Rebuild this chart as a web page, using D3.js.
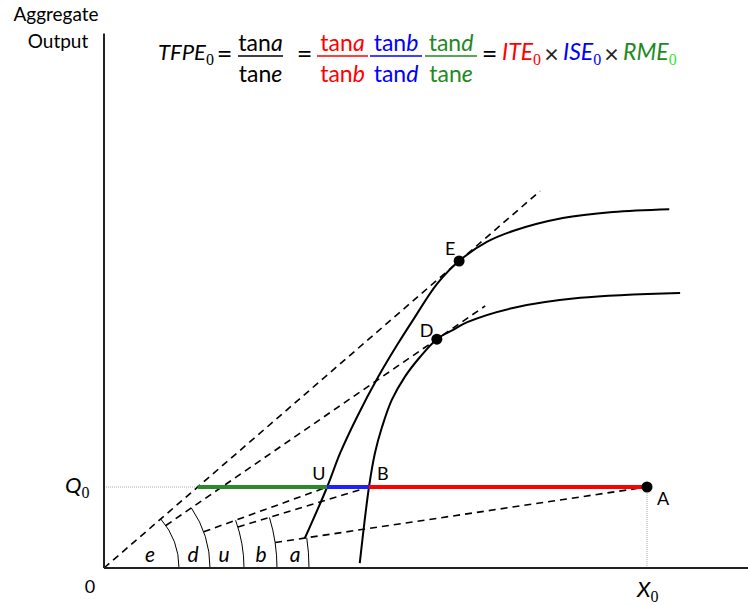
<!DOCTYPE html>
<html>
<head>
    <script src="https://cdn.jsdelivr.net/npm/d3@7/dist/d3.min.js" charset="utf-8"></script>
    <style>
        body { margin: 0; background: #fff; }
        text { font-family: Lato, "Open Sans", sans-serif; }
    </style>
</head>
<body>
    <script>
        // values (x in % of X0, y so that Q0 = 20)
        var Q0 = 20, X0 = 100;
        var upperCurve = [[37.0, 7.4], [41.1, 20], [43.5, 28.4], [46.6, 37.3], [50.5, 47.2], [54.0, 55.1],
            [56.9, 61.2], [61.3, 70.1], [65.4, 75.8], [70.5, 80.5], [75.3, 83.2], [84.5, 86.4], [93.7, 87.9], [104.1, 88.6]];
        var lowerCurve = [[47.1, 1.2], [48.8, 20], [49.9, 28.4], [51.2, 34.8], [53.0, 41.5], [55.4, 47.2],
            [58.2, 52.1], [61.3, 56.5], [64.3, 58.8], [66.9, 60.7], [75.3, 64.2], [87.7, 66.7], [106.1, 67.9]];
        var pointNames = ["E", "D", "U", "B", "A"];
        var pointX = [65.4, 61.3, 41.1, 48.8, 100];
        var pointY = [75.8, 56.5, 20, 20, 20];
        var angleNames = ["e", "d", "u", "b", "a"];
        var rayEnds = [80.3, 70.2, 41.1, 48.8, 100];   // x where each dashed ray stops
        var dotted = ["E", "D", "A"];
        var formulaFracs = [
            { num: "a", den: "e", color: "#000" },
            { num: "a", den: "b", color: "#ff0000" },
            { num: "b", den: "d", color: "#0000ff" },
            { num: "d", den: "e", color: "#1e8a1e" }
        ];
        var formulaTerms = ["ITE", "ISE", "RME"];
        var termColors = ["#ff0000", "#0000ff", "#1e8a1e"];
        var termSubColors = ["#ff0000", "#0000ff", "#33e633"];

        var W = 748, H = 605;
        var svg = d3.select("body")
            .append("svg")
            .attr("width", W)
            .attr("height", H);

        var x = d3.scaleLinear().domain([0, X0]).range([104, 647]);
        var y = d3.scaleLinear().domain([0, Q0]).range([568, 487]);
        var ox = x(0), oy = y(0);

        // guides
        var eSlope = pointX[0] / pointY[0];
        var greenStart = Q0 * eSlope;
        svg.append("line")
            .attr("x1", ox).attr("y1", y(Q0)).attr("x2", x(greenStart)).attr("y2", y(Q0))
            .style("stroke", "#999").style("stroke-width", 0.8).style("stroke-dasharray", "1,1");
        svg.append("line")
            .attr("x1", x(X0)).attr("y1", y(Q0)).attr("x2", x(X0)).attr("y2", oy)
            .style("stroke", "#999").style("stroke-width", 0.8).style("stroke-dasharray", "1,1");

        // arcs and dashed rays
        var arcR = [75, 106, 140, 173, 205];
        var angle = pointX.map(function (px, i) {
            return Math.atan2(oy - y(pointY[i]), x(px) - ox);
        });
        angleNames.forEach(function (n, i) {
            var p = d3.path();
            p.arc(ox, oy, arcR[i], -angle[i], 0);
            svg.append("path").attr("d", p.toString())
                .style("fill", "none").style("stroke", "#000").style("stroke-width", 1);

            var r0 = i == 0 ? 0 : arcR[i - 1];
            var k = pointY[i] / pointX[i];
            svg.append("line")
                .attr("x1", ox + r0 * Math.cos(angle[i]))
                .attr("y1", oy - r0 * Math.sin(angle[i]))
                .attr("x2", x(rayEnds[i]))
                .attr("y2", y(rayEnds[i] * k))
                .style("stroke", "#000").style("stroke-width", 1.6).style("stroke-dasharray", "7,5");
        });
        var labelR = [46, 89, 120, 157, 191];
        angleNames.forEach(function (n, i) {
            svg.append("text")
                .attr("x", ox + labelR[i]).attr("y", oy - 6)
                .attr("text-anchor", "middle")
                .style("font-size", "21px").style("font-style", "italic")
                .text(n);
        });

        // curves
        var line = d3.line()
            .x(function (d) { return x(d[0]); })
            .y(function (d) { return y(d[1]); })
            .curve(d3.curveCatmullRom.alpha(0.5));
        [upperCurve, lowerCurve].forEach(function (c) {
            svg.append("path").attr("d", line(c))
                .style("fill", "none").style("stroke", "#000").style("stroke-width", 2);
        });

        // coloured pieces on Q0
        var segs = [[greenStart, pointX[2], "#2a8a2a"], [pointX[2], pointX[3], "#1f1fff"], [pointX[3], pointX[4], "#ff0000"]];
        segs.forEach(function (s) {
            svg.append("line")
                .attr("x1", x(s[0])).attr("y1", y(Q0)).attr("x2", x(s[1])).attr("y2", y(Q0))
                .style("stroke", s[2]).style("stroke-width", 4);
        });

        // axes
        svg.append("line").attr("x1", ox).attr("y1", oy).attr("x2", ox).attr("y2", y(132))
            .style("stroke", "#222").style("stroke-width", 2);
        svg.append("line").attr("x1", ox).attr("y1", oy).attr("x2", W).attr("y2", oy)
            .style("stroke", "#222").style("stroke-width", 2);

        // points
        var offs = { E: [-14, -6], D: [-17, -2], U: [-15, -7], B: [8, -7], A: [10, 18] };
        pointNames.forEach(function (n, i) {
            if (dotted.indexOf(n) >= 0) {
                svg.append("circle").attr("cx", x(pointX[i])).attr("cy", y(pointY[i])).attr("r", 5.5)
                    .style("fill", "#000");
            }
            svg.append("text")
                .attr("x", x(pointX[i]) + offs[n][0]).attr("y", y(pointY[i]) + offs[n][1])
                .style("font-size", "18px")
                .text(n);
        });

        // axis labels
        function sub(el, t, size, color) {
            el.append("tspan").attr("baseline-shift", "-30%")
                .style("font-family", "'Liberation Serif', serif").style("font-style", "normal")
                .style("font-size", size).style("fill", color || "#000").text(t);
        }
        svg.append("text").attr("x", 56).attr("y", 21).attr("text-anchor", "middle")
            .style("font-size", "19px").text("Aggregate");
        svg.append("text").attr("x", 58).attr("y", 48).attr("text-anchor", "middle")
            .style("font-size", "19px").text("Output");
        svg.append("text").attr("x", 90).attr("y", 593).attr("text-anchor", "middle")
            .style("font-size", "18px").text("0");
        var q = svg.append("text").attr("x", 65).attr("y", 493).style("font-size", "22px").style("font-style", "italic");
        q.append("tspan").text("Q");
        sub(q, "0", "16px");
        var xl = svg.append("text").attr("x", 637).attr("y", 597).style("font-size", "22px").style("font-style", "italic");
        xl.append("tspan").text("X");
        sub(xl, "0", "16px");

        // formula
        var fs = "23px";
        var t = svg.append("text").attr("x", 158).attr("y", 60).style("font-size", "22px").style("font-style", "italic");
        t.append("tspan").text("TFPE");
        sub(t, "0", "16px");
        [224.5, 304.5, 489.5].forEach(function (cx) {
            svg.append("text").attr("x", cx).attr("y", 63).attr("text-anchor", "middle")
                .style("font-size", "27px").text("=");
        });
        [551.5, 611.5].forEach(function (cx) {
            svg.append("text").attr("x", cx).attr("y", 63).attr("text-anchor", "middle")
                .style("font-size", "25px").style("fill", "#222").text("\u00d7");
        });
        var bars = [[238, 283], [317, 368], [370, 422], [425, 477]];
        formulaFracs.forEach(function (f, i) {
            var b = bars[i], cx = (b[0] + b[1]) / 2;
            svg.append("line").attr("x1", b[0]).attr("x2", b[1]).attr("y1", 56).attr("y2", 56)
                .style("stroke", f.color).style("stroke-width", 1.3);
            [[f.num, 51], [f.den, 82]].forEach(function (p) {
                var tx = svg.append("text").attr("x", cx).attr("y", p[1]).attr("text-anchor", "middle")
                    .style("font-size", fs).style("fill", f.color);
                tx.append("tspan").text("tan");
                tx.append("tspan").style("font-style", "italic").text(p[0]);
            });
        });
        var termX = [502, 563, 623];
        formulaTerms.forEach(function (s, i) {
            var tt = svg.append("text").attr("x", termX[i]).attr("y", 60)
                .style("font-size", fs).style("font-style", "italic").style("fill", termColors[i]);
            tt.append("tspan").text(s);
            sub(tt, "0", "16px", termSubColors[i]);
        });
    </script>
</body>
</html>
